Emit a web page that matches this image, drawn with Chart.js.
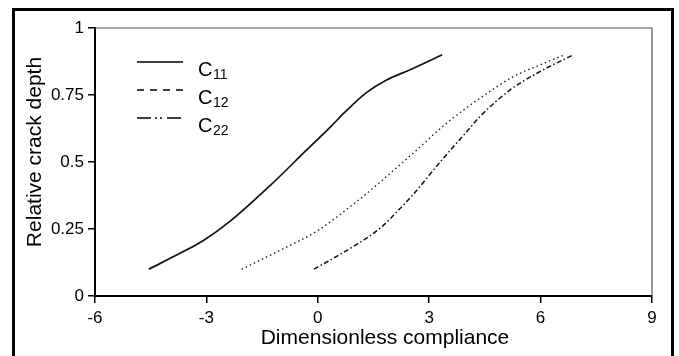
<!DOCTYPE html>
<html>
<head>
<meta charset="utf-8">
<script src="https://cdn.jsdelivr.net/npm/chart.js@4.4.1/dist/chart.umd.min.js"></script>
<style>
  html, body { margin: 0; padding: 0; background: #fff; }
  #wrap { position: relative; width: 679px; height: 356px; overflow: hidden; }
  #frame { position: absolute; left: 12px; top: 8px; width: 656px; height: 360px; border: 3px solid #000; pointer-events: none; }
  #chart { position: absolute; left: 0; top: 0; }
</style>
</head>
<body>
<div id="wrap">
  <canvas id="chart" width="679" height="356"></canvas>
  <div id="frame"></div>
</div>
<script>
// ---- data ----
const c11X = [-4.55, -3.7, -3.1, -2.35, -1.3, -0.3, 0.35, 0.7, 1.3, 1.85, 2.5, 3.35];
const c11Y = [0.10, 0.16, 0.205, 0.28, 0.41, 0.545, 0.632, 0.682, 0.758, 0.806, 0.845, 0.90];

const c12X = [-2.05, -0.95, -0.05, 1.0, 1.68, 2.05, 2.57, 3.47, 4.37, 5.27, 5.98, 6.65];
const c12Y = [0.10, 0.175, 0.24, 0.347, 0.425, 0.47, 0.533, 0.645, 0.738, 0.819, 0.862, 0.90];

const c22X = [-0.1, 0.96, 1.68, 2.17, 2.48, 3.38, 4.01, 4.37, 5.18, 5.98, 6.88];
const c22Y = [0.10, 0.185, 0.253, 0.32, 0.365, 0.514, 0.613, 0.67, 0.769, 0.837, 0.90];

const seriesSymbol = ['C', 'C', 'C'];
const seriesSub = ['11', '12', '22'];

const xTicks = [-6, -3, 0, 3, 6, 9];
const yTicks = [0, 0.25, 0.5, 0.75, 1];
const yTickLabels = ['0', '0.25', '0.5', '0.75', '1'];

const xTitle = 'Dimensionless compliance';
const yTitle = 'Relative crack depth';

const FONT = "'Liberation Sans', Arial, sans-serif";

const toPoints = (xs, ys) => xs.map((x, i) => ({ x, y: ys[i] }));

// grey top/right edge, axis titles and the in-plot key
const decor = {
  id: 'decor',
  beforeDatasetsDraw(chart) {
    const { ctx, chartArea: a } = chart;
    ctx.save();
    ctx.strokeStyle = '#555';
    ctx.lineWidth = 1.2;
    ctx.beginPath();
    ctx.moveTo(a.left, a.top);
    ctx.lineTo(a.right, a.top);
    ctx.lineTo(a.right, a.bottom);
    ctx.stroke();
    ctx.restore();
  },
  afterDraw(chart) {
    const { ctx, chartArea: a } = chart;
    ctx.save();
    ctx.fillStyle = '#000';

    // axis titles
    ctx.font = `21px ${FONT}`;
    ctx.textAlign = 'center';
    ctx.textBaseline = 'middle';
    ctx.fillText(xTitle, 385, 338);
    ctx.translate(35, 152);
    ctx.rotate(-Math.PI / 2);
    ctx.fillText(yTitle, 0, 0);
    ctx.setTransform(1, 0, 0, 1, 0, 0);

    // key
    chart.data.datasets.forEach((ds, i) => {
      const y = a.top + 34 + i * 28;
      ctx.strokeStyle = '#000';
      ctx.lineWidth = 1.6;
      ctx.setLineDash(ds.keyDash);
      ctx.beginPath();
      ctx.moveTo(a.left + 42, y);
      ctx.lineTo(a.left + 88, y);
      ctx.stroke();
      ctx.setLineDash([]);

      ctx.textAlign = 'left';
      ctx.textBaseline = 'alphabetic';
      ctx.font = `20px ${FONT}`;
      ctx.fillText(seriesSymbol[i], a.left + 103, y + 14);
      ctx.font = `14px ${FONT}`;
      ctx.fillText(seriesSub[i], a.left + 118, y + 16.5);
    });
    ctx.restore();
  }
};

const axisBase = {
  type: 'linear',
  grid: { display: true, drawOnChartArea: false, drawTicks: true, tickLength: 7, color: '#000', lineWidth: 1.5 },
  border: { display: true, color: '#000', width: 2 },
  ticks: { color: '#000', font: { family: FONT, size: 17 } }
};

new Chart(document.getElementById('chart'), {
  type: 'line',
  data: {
    datasets: [
      {
        label: seriesSymbol[0] + seriesSub[0],
        data: toPoints(c11X, c11Y),
        borderColor: '#111',
        borderWidth: 1.7,
        keyDash: []
      },
      {
        label: seriesSymbol[1] + seriesSub[1],
        data: toPoints(c12X, c12Y),
        borderColor: '#222',
        borderWidth: 1.4,
        borderDash: [1.5, 3],
        keyDash: [7, 6]
      },
      {
        label: seriesSymbol[2] + seriesSub[2],
        data: toPoints(c22X, c22Y),
        borderColor: '#111',
        borderWidth: 1.5,
        borderDash: [5, 2.5, 1.5, 2.5],
        keyDash: [14, 4, 2, 3, 2, 5]
      }
    ]
  },
  options: {
    responsive: false,
    animation: false,
    devicePixelRatio: 1,
    layout: { padding: { left: 0, top: 28, right: 27, bottom: 0 } },
    elements: {
      point: { radius: 0 },
      line: { cubicInterpolationMode: 'monotone', fill: false }
    },
    plugins: {
      legend: { display: false },
      tooltip: { enabled: false }
    },
    scales: {
      x: {
        ...axisBase,
        min: -6,
        max: 9,
        afterBuildTicks: (s) => { s.ticks = xTicks.map(v => ({ value: v })); },
        afterFit: (s) => { s.height = 60; },
        ticks: { ...axisBase.ticks, padding: 5, maxRotation: 0, callback: (v) => String(v) }
      },
      y: {
        ...axisBase,
        min: 0,
        max: 1,
        afterBuildTicks: (s) => { s.ticks = yTicks.map(v => ({ value: v })); },
        afterFit: (s) => { s.width = 95; },
        ticks: { ...axisBase.ticks, padding: 4, callback: (v) => yTickLabels[yTicks.indexOf(v)] }
      }
    }
  },
  plugins: [decor]
});
</script>
</body>
</html>
